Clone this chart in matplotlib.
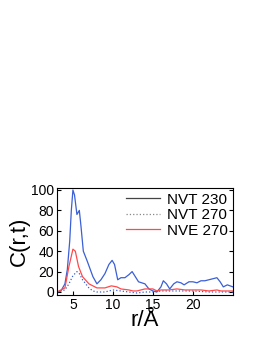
import matplotlib
matplotlib.use('Agg')
import matplotlib.pyplot as plt
from matplotlib.lines import Line2D

plt.rcParams['font.family'] = ['Liberation Sans', 'DejaVu Sans']

# NVT 230 (solid)
r_a = [3, 3.5, 4, 4.3, 4.6, 4.8, 5.0, 5.2, 5.5, 5.8, 6.0, 6.3, 6.8, 7.5, 8.0, 8.5, 9.0, 9.5, 9.9,
       10.2, 10.6, 11.0, 11.5, 12.0, 12.4, 12.8, 13.2, 14.0, 14.5, 15.0, 15.5, 16.0, 16.3,
       16.7, 17.1, 17.6, 18.0, 18.5, 18.9, 19.5, 20.0, 20.5, 21.0, 21.5, 22.0, 22.5, 23.0,
       23.4, 23.8, 24.3, 25.0]
c_a = [0, 1, 8, 22, 50, 80, 100, 95, 76, 80, 65, 40, 30, 15, 8, 12, 18, 27, 31,
       27, 12, 14, 14, 17, 20, 15, 10, 8, 3, 1, 0, 5, 11,
       8, 3, 8, 10, 9, 7, 10, 10, 9, 11, 11, 12, 13, 14,
       10, 5, 7, 5]

# NVT 270 (dotted)
r_b = [3, 4, 4.5, 5.0, 5.5, 5.8, 6.2, 7.0, 7.5, 8.0, 9.0, 10.0, 11.0, 12.0, 13.0, 14.0,
       15.0, 16.0, 18.0, 20.0, 22.0, 23.0, 25.0]
c_b = [0, 2, 8, 16, 20, 18, 12, 4, 1, 0, 0, 2, 1, 0, -1, 0,
       0, 1, 1, 1, 0, 0, 0]

# NVE 270 (red)
r_c = [3, 4, 4.5, 5.0, 5.3, 5.7, 6.2, 7.0, 8.0, 9.0, 9.8, 10.5, 11.0, 12.0, 12.5, 13.0,
       14.0, 15.0, 15.5, 16.0, 17.0, 18.0, 19.0, 20.0, 21.0, 22.0, 23.0, 23.5, 24.0, 25.0]
c_c = [0, 4, 25, 42, 40, 25, 15, 8, 4, 4, 6, 5, 3, 2, 1, 1,
       3, 3, 1, 2, 2, 3, 2, 2, 2, 1, 2, 1, 1, 1]

fig = plt.figure(figsize=(2.75, 3.5), dpi=100)
ax = fig.add_axes([0.207, 0.157, 0.64, 0.306])

ax.plot(r_a, c_a, color='#3a5fd6', lw=0.9)
ax.plot(r_b, c_b, color='#3a5fd6', lw=0.9, ls=':')
ax.plot(r_c, c_c, color='#ff4a4a', lw=0.9)

ax.set_xlim(3, 25)
ax.set_ylim(-3, 102)
ax.set_xticks([5, 10, 15, 20])
ax.set_yticks([0, 20, 40, 60, 80, 100])
ax.tick_params(direction='in', right=True, labelsize=10, length=3, pad=2)
ax.set_xlabel('r/Å', fontsize=16, labelpad=-1)
ax.set_ylabel('C(r,t)', fontsize=16, labelpad=1)

handles = [Line2D([], [], color='#444444', lw=0.9),
           Line2D([], [], color='#888888', lw=0.9, ls=':'),
           Line2D([], [], color='#ff4a4a', lw=0.9)]
ax.legend(handles, ['NVT 230', 'NVT 270', 'NVE 270'], frameon=False, fontsize=11,
          loc='upper right', handlelength=2.2, borderpad=0.2, labelspacing=0.1,
          handletextpad=0.5, borderaxespad=0.1)

fig.savefig('out.png')
